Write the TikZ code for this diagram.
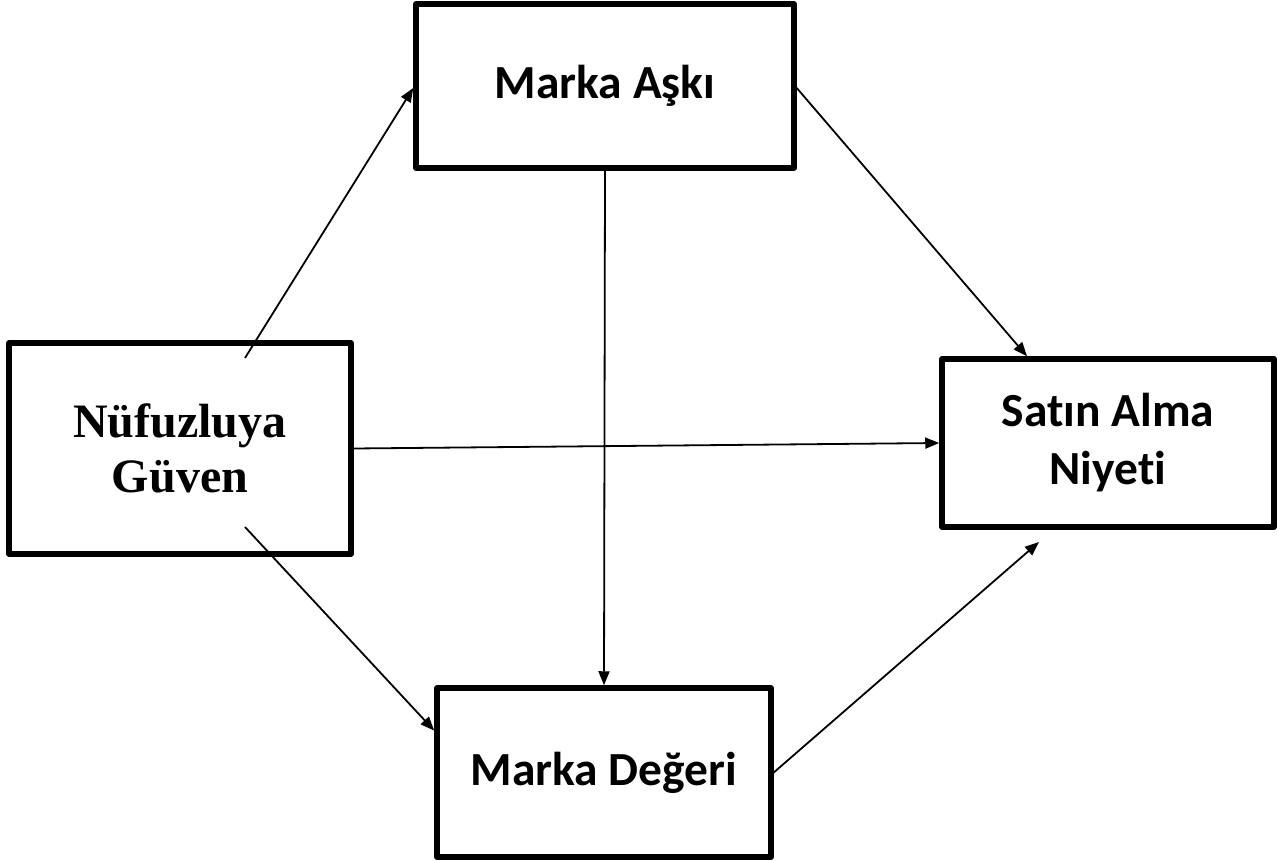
\documentclass[tikz,border=0pt]{standalone}
\usepackage{fontspec}
\usetikzlibrary{arrows.meta,calc}
\newfontfamily\calfont{Carlito}[RawFeature={-liga;-clig;-calt}]
\newfontfamily\timfont{Liberation Serif}
\begin{document}
\begin{tikzpicture}[x=1pt,y=-1pt,
  box/.style={draw=black,line width=5.5pt,fill=white,inner sep=0pt,align=center,rectangle,line join=round},
  calbox/.style={box,font=\calfont\bfseries\fontsize{47.5}{58}\selectfont},
  timbox/.style={box,font=\timfont\bfseries\fontsize{48}{55}\selectfont},
  arr/.style={line width=1.8pt,-{Triangle[length=14pt,width=11pt]}}
]
\useasboundingbox (0,0) rectangle (1277,861);
\node[calbox,minimum width=378pt,minimum height=164pt] (ma) at (605,86) {Marka Aşkı};
\node[timbox,minimum width=342pt,minimum height=211pt] (ng) at (180,448.5) {Nüfuzluya\\Güven};
\node[calbox,minimum width=332pt,minimum height=168pt] (sn) at (1108,443) {Satın Alma\\Niyet\kern0pt i};
\node[calbox,minimum width=334pt,minimum height=169pt] (md) at (604,772.5) {Marka Değeri};
\coordinate (ng-top) at (245,358);
\coordinate (ng-bot) at (245,527);
\coordinate (sn-gap) at (1039,542);
\draw[arr] (ng-top) -- ($(ma.west)+(0,2)$);
\draw[arr] ($(ma.east)+(0,2)$) -- ($(sn.north west)!0.26!(sn.north east)$);
\draw[arr] (ma.south) -- (md.north);
\draw[arr] (ng.east) -- (sn.west);
\draw[arr] (ng-bot) -- ($(md.north west)!0.26!(md.south west)$);
\draw[arr] (md.east) -- (sn-gap);
\end{tikzpicture}
\end{document}
